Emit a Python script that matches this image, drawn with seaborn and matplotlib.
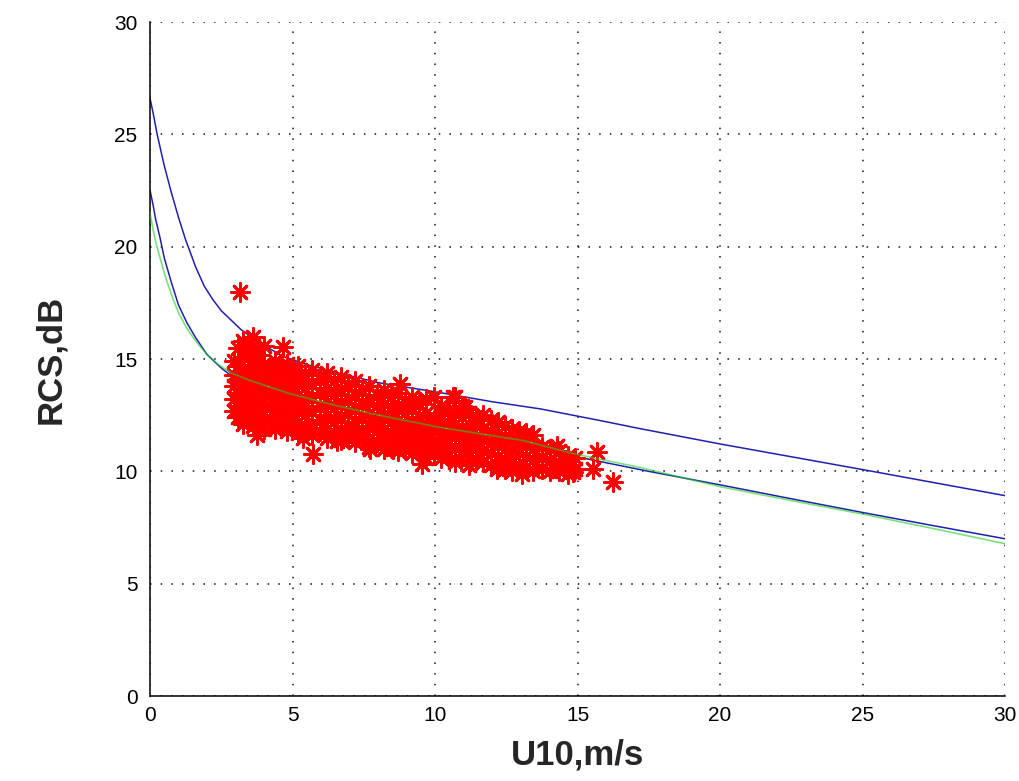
import numpy as np
import pandas as pd
import matplotlib
matplotlib.use('Agg')
import matplotlib.pyplot as plt
import seaborn as sns

sns.set_style('white')
plt.rcParams['font.family'] = ['Liberation Sans', 'DejaVu Sans']

# model curves (U10 in m/s, RCS in dB)
upper_u10 = [0, 0.1, 0.25, 0.5, 0.75, 1.0, 1.25, 1.6, 1.9, 2.2, 2.5, 3.2, 4.0, 4.7, 5.5,
             6.7, 8.0, 10.2, 12.0, 13.7, 15.8, 17.2, 20.0, 22.5, 25.0, 27.5, 30.0]
upper_rcs = [26.6, 26.0, 25.0, 23.6, 22.4, 21.3, 20.3, 19.1, 18.25, 17.65, 17.15, 16.3, 15.6, 15.1, 14.75,
             14.35, 13.95, 13.5, 13.1, 12.78, 12.26, 11.9, 11.22, 10.65, 10.08, 9.5, 8.92]

lower_u10 = [0, 0.1, 0.2, 0.35, 0.5, 0.75, 1.0, 1.3, 1.6, 2.0, 2.5, 3.0, 4.0, 5.0,
             6.0, 8.0, 10.0, 12.0, 14.0, 15.0, 17.5, 20.0, 22.5, 25.0, 27.5, 30.0]
lower_rcs = [22.5, 21.9, 21.2, 20.4, 19.5, 18.4, 17.4, 16.6, 15.95, 15.2, 14.6, 14.1, 13.75, 13.35,
             13.0, 12.45, 11.95, 11.45, 10.95, 10.64, 10.0, 9.4, 8.78, 8.17, 7.58, 7.0]

green_u10 = [0, 0.1, 0.2, 0.35, 0.58, 0.8, 1.0, 1.3, 1.6, 2.0, 2.4, 2.9, 3.5, 4.9,
             6.3, 7.8, 10.2, 13.1, 14.85, 17.2, 20.0, 22.5, 25.0, 27.5, 30.0]
green_rcs = [21.5, 20.8, 20.2, 19.5, 18.5, 17.7, 17.05, 16.35, 15.8, 15.2, 14.75, 14.35, 14.05, 13.46,
             13.0, 12.56, 11.95, 11.37, 10.79, 10.17, 9.32, 8.7, 8.1, 7.45, 6.78]

# measured points, grouped by wind-speed column
col_u10 = [2.95, 3.1, 3.25, 3.45, 3.6, 3.8, 4.0, 4.2, 4.4, 4.6, 4.8, 5.0, 5.2, 5.45,
           5.7, 5.95, 6.2, 6.45, 6.7, 6.95, 7.2, 7.45, 7.7, 7.95, 8.2, 8.45, 8.7, 8.95,
           9.2, 9.45, 9.7, 9.95, 10.2, 10.45, 10.7, 10.95, 11.2, 11.45, 11.7, 11.95, 12.2,
           12.45, 12.7, 12.95, 13.2, 13.45, 13.75, 14.05, 14.35, 14.65, 14.9]
col_rcs = [
    [14.9, 14.3, 13.8, 13.2, 12.7],
    [15.5, 14.7, 14.0, 13.5, 12.9, 12.4],
    [15.8, 15.1, 14.4, 13.7, 13.1, 12.5, 12.1],
    [15.3, 14.6, 14.1, 13.4, 12.8, 12.3],
    [16.0, 15.6, 14.9, 14.2, 13.6, 13.0, 12.4, 12.0],
    [15.2, 14.5, 13.9, 13.3, 12.7, 12.2],
    [15.6, 14.8, 14.2, 13.5, 12.9, 12.3, 11.9],
    [14.6, 14.0, 13.4, 12.8, 12.2],
    [14.9, 14.3, 13.7, 13.1, 12.5, 11.9],
    [14.5, 13.9, 13.3, 12.7, 12.1],
    [14.8, 14.1, 13.5, 12.9, 12.3, 11.8],
    [14.4, 13.8, 13.2, 12.6, 12.0],
    [14.7, 14.0, 13.4, 12.8, 12.2, 11.7],
    [14.3, 13.7, 13.1, 12.5, 11.9],
    [14.5, 13.9, 13.3, 12.7, 12.1, 11.6],
    [14.1, 13.5, 12.9, 12.3, 11.8],
    [14.4, 13.7, 13.1, 12.5, 11.9, 11.5],
    [14.0, 13.4, 12.8, 12.2, 11.7],
    [14.2, 13.6, 13.0, 12.4, 11.8, 11.4],
    [13.8, 13.2, 12.6, 12.0, 11.5],
    [14.0, 13.4, 12.8, 12.2, 11.7, 11.3],
    [13.6, 13.0, 12.4, 11.9, 11.4],
    [13.8, 13.2, 12.6, 12.0, 11.5, 11.1],
    [13.4, 12.9, 12.3, 11.8, 11.3],
    [13.6, 13.0, 12.4, 11.9, 11.4, 11.0],
    [13.3, 12.7, 12.2, 11.6, 11.1],
    [13.5, 12.9, 12.3, 11.8, 11.3, 10.9],
    [13.1, 12.6, 12.0, 11.5, 11.0],
    [13.3, 12.8, 12.2, 11.7, 11.2, 10.8],
    [13.0, 12.4, 11.9, 11.4, 10.9],
    [13.2, 12.6, 12.1, 11.6, 11.1, 10.6],
    [13.3, 12.3, 11.8, 11.3, 10.8],
    [12.9, 12.5, 12.0, 11.5, 11.0, 10.6],
    [12.7, 12.2, 11.7, 11.2, 10.7],
    [13.3, 12.6, 12.1, 11.6, 11.1, 10.5],
    [12.9, 12.4, 11.9, 11.4, 10.9],
    [12.6, 12.1, 11.7, 11.2, 10.7, 10.3],
    [12.4, 12.0, 11.5, 11.0, 10.5],
    [12.5, 11.9, 11.4, 10.9, 10.4],
    [12.3, 11.8, 11.3, 10.8, 10.3],
    [12.2, 11.7, 11.2, 10.7, 10.2],
    [12.0, 11.5, 11.0, 10.5, 10.1],
    [11.9, 11.4, 10.9, 10.4, 10.0],
    [11.8, 11.3, 10.8, 10.3],
    [11.7, 11.2, 10.7, 10.2],
    [11.6, 11.0, 10.5, 10.0],
    [11.1, 10.6, 10.1],
    [11.0, 10.5, 10.0],
    [10.9, 10.4, 10.0],
    [10.7, 10.3, 9.9],
    [10.6, 10.1],
]

# isolated points away from the main cloud
extra_u10 = [3.16, 4.68, 8.77, 3.74, 5.73, 6.55, 9.53, 10.64, 11.05, 13.04, 14.27,
             15.67, 15.55, 16.26, 14.85, 12.16, 10.7, 7.72, 8.53, 5.37]
extra_rcs = [17.98, 15.53, 13.9, 11.6, 10.78, 11.37, 10.33, 13.3, 12.86, 9.88, 11.15,
             10.85, 10.1, 9.51, 9.95, 10.1, 10.4, 11.0, 11.0, 11.5]


def build_points():
    u = [x for x, ys in zip(col_u10, col_rcs) for _ in ys] + extra_u10
    r = [y for ys in col_rcs for y in ys] + extra_rcs
    return pd.DataFrame({'u10': u, 'rcs': r})


def main():
    pts = build_points()

    fig = plt.figure(figsize=(10.2, 7.81), dpi=100)
    ax = fig.add_axes([0.1471, 0.1088, 0.8382, 0.863])

    blue = '#2020b0'
    sns.lineplot(x=upper_u10, y=upper_rcs, ax=ax, color=blue, linewidth=1.1,
                 sort=False, estimator=None, zorder=2)
    sns.lineplot(x=lower_u10, y=lower_rcs, ax=ax, color=blue, linewidth=1.1,
                 sort=False, estimator=None, zorder=2)
    sns.scatterplot(data=pts, x='u10', y='rcs', ax=ax, marker=(8, 2, 0), s=170,
                    color='#ff0000', edgecolor='#ff0000', linewidth=2.0, zorder=3)
    sns.lineplot(x=green_u10, y=green_rcs, ax=ax, color='#20d020', linewidth=1.2,
                 alpha=0.6, sort=False, estimator=None, zorder=4)

    ax.set_xlim(0, 30)
    ax.set_ylim(0, 30)
    ticks = [0, 5, 10, 15, 20, 25, 30]
    ax.set_xticks(ticks)
    ax.set_yticks(ticks)
    ax.grid(True, color='#111111', linestyle=(0, (1, 6)), linewidth=1.1)
    ax.set_axisbelow(True)

    for side in ['top', 'right']:
        ax.spines[side].set_visible(False)
    for side in ['left', 'bottom']:
        ax.spines[side].set_color('black')
        ax.spines[side].set_linewidth(1.1)

    ax.tick_params(direction='in', length=5, width=1.0, colors='black',
                   labelsize=15, labelcolor='black')
    ax.tick_params(axis='x', pad=7)
    ax.tick_params(axis='y', pad=9)

    ax.set_xlabel('U10,m/s', fontsize=25, fontweight='bold', labelpad=10)
    ax.set_ylabel('RCS,dB', fontsize=25, fontweight='bold', labelpad=34)

    fig.savefig('out.png', dpi=100)


if __name__ == '__main__':
    main()
